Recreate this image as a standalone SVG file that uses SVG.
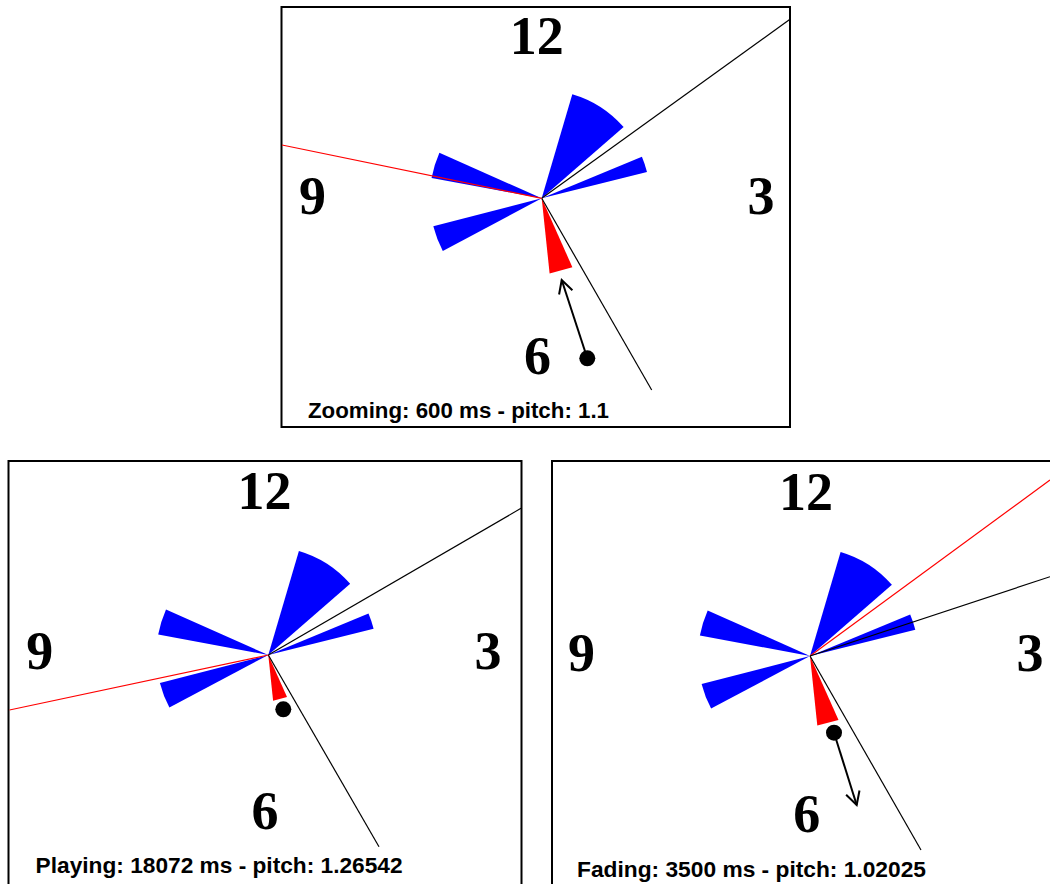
<svg xmlns="http://www.w3.org/2000/svg" width="1050" height="884" viewBox="0 0 1050 884">
<style>
.frame{fill:none;stroke:#000;stroke-width:2}
.num{font-family:"Liberation Serif","Times New Roman",serif;font-weight:bold;font-size:54px;fill:#000;text-anchor:middle}
.status{font-family:"Liberation Sans",Arial,sans-serif;font-weight:bold;font-size:22px;fill:#000}
.blue{fill:#0000ff}
.red{fill:#ff0000}
.hand{stroke:#000;stroke-width:1.2;fill:none}
.rhand{stroke:#ff0000;stroke-width:1.2;fill:none}
.arrow{stroke:#000;stroke-width:2;fill:none;marker-end:url(#arr)}
</style>
<defs>
<marker id="arr" markerWidth="20" markerHeight="20" refX="14" refY="7" orient="auto" markerUnits="userSpaceOnUse" overflow="visible">
<path d="M1,0 L14,7 L1,14" fill="none" stroke="#000" stroke-width="2"/>
</marker>
<g id="bluewedges" class="blue">
<path d="M0,0 L30.6,-104.1 A108.5,108.5 0 0 1 81.9,-71.2 Z"/>
<path d="M0,0 L100.2,-41.5 A108.5,108.5 0 0 1 105.3,-26.2 Z"/>
<path d="M0,0 L-110.1,-20.4 A112,112 0 0 1 -102.3,-45.6 Z"/>
<path d="M0,0 L-98.9,52.6 A112,112 0 0 1 -108.4,28.0 Z"/>
</g>
</defs>
<rect width="1050" height="884" fill="#fff"/>

<g id="panel-zooming">
<rect class="frame" x="281.5" y="7" width="508.5" height="420"/>
<text class="num" x="536.7" y="54">12</text>
<text class="num" x="312.5" y="214">9</text>
<text class="num" x="761" y="214">3</text>
<text class="num" x="537.5" y="374">6</text>
<use href="#bluewedges" transform="translate(541.7,198.3)"/>
<polygon class="red" points="541.7,198.3 572.4,267.3 549.6,273.4"/>
<text class="status" x="308" y="418" textLength="301" lengthAdjust="spacingAndGlyphs">Zooming: 600 ms - pitch: 1.1</text>
</g>

<g id="panel-playing">
<rect class="frame" x="8.5" y="461" width="513" height="440"/>
<text class="num" x="264.5" y="509">12</text>
<text class="num" x="39.8" y="669">9</text>
<text class="num" x="488" y="669">3</text>
<text class="num" x="265" y="829">6</text>
<use href="#bluewedges" transform="translate(268.3,655)"/>
<polygon class="red" points="268.3,655 287,697 273.1,700.7"/>
<text class="status" x="35.6" y="873" textLength="367" lengthAdjust="spacingAndGlyphs">Playing: 18072 ms - pitch: 1.26542</text>
</g>

<g id="panel-fading">
<rect class="frame" x="552" y="461" width="520" height="440"/>
<text class="num" x="806" y="510">12</text>
<text class="num" x="581.5" y="671">9</text>
<text class="num" x="1030" y="671">3</text>
<text class="num" x="806.7" y="832">6</text>
<use href="#bluewedges" transform="translate(810,656)"/>
<polygon class="red" points="810,656 838.5,719.9 817.3,725.6"/>
<text class="status" x="577" y="877" textLength="349" lengthAdjust="spacingAndGlyphs">Fading: 3500 ms - pitch: 1.02025</text>
</g>

<g id="connectors">
<line class="hand" x1="541.7" y1="198.3" x2="790" y2="19.3"/>
<line class="hand" x1="541.7" y1="198.3" x2="651.7" y2="390"/>
<line class="rhand" x1="541.7" y1="198.3" x2="282" y2="145"/>
<line class="arrow" x1="587.3" y1="358.3" x2="561.7" y2="280"/>
<circle cx="587.3" cy="358.3" r="8" fill="#000"/>

<line class="hand" x1="268.3" y1="655" x2="521" y2="508.3"/>
<line class="hand" x1="268.3" y1="655" x2="379" y2="846.7"/>
<line class="rhand" x1="268.3" y1="655" x2="9.5" y2="710"/>
<circle cx="283.3" cy="709.3" r="8" fill="#000"/>

<line class="rhand" x1="810" y1="656" x2="1050" y2="480"/>
<line class="hand" x1="810" y1="656" x2="1050" y2="576.7"/>
<line class="hand" x1="810" y1="656" x2="921" y2="850"/>
<line class="arrow" x1="834" y1="732.7" x2="856.7" y2="805"/>
<circle cx="834" cy="732.7" r="8" fill="#000"/>
</g>
</svg>
